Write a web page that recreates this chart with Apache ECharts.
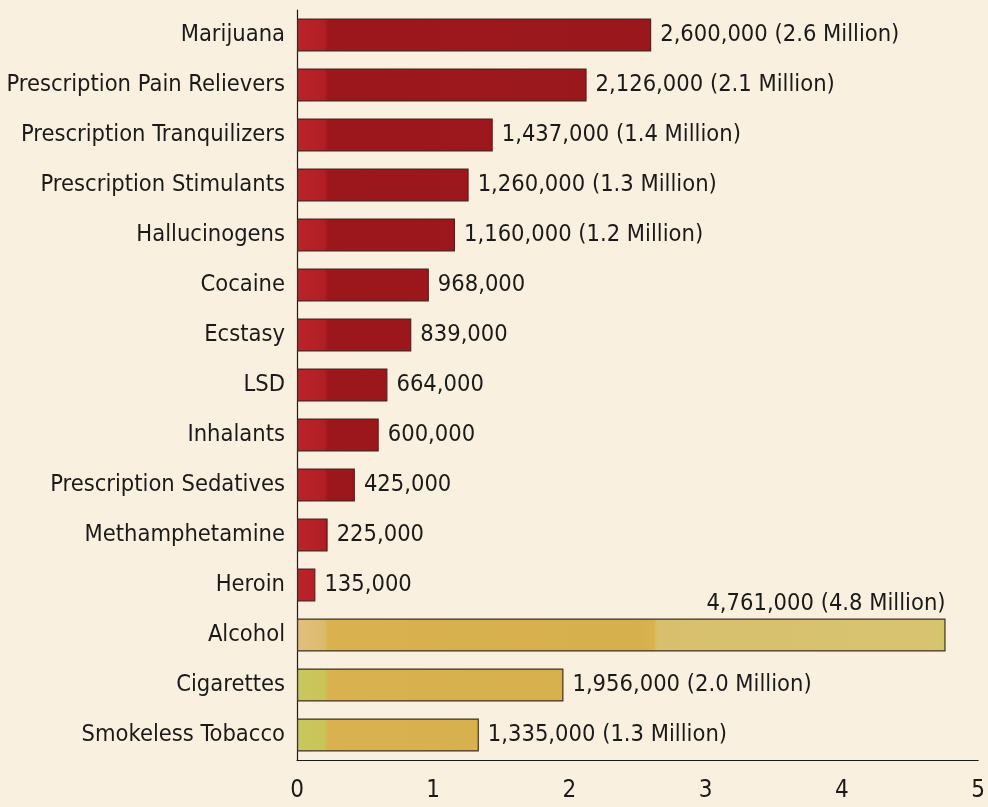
<!DOCTYPE html>
<html>
<head>
<meta charset="utf-8">
<script src="https://cdn.jsdelivr.net/npm/echarts@6/dist/echarts.min.js"></script>
<style>
  html, body { margin: 0; padding: 0; background: #FAF0DF; }
  #chart { width: 988px; height: 807px; }
</style>
</head>
<body>
<div id="chart"></div>
<script>
// Substances, listed top to bottom
const categories = [
  'Marijuana', 'Prescription Pain Relievers', 'Prescription Tranquilizers',
  'Prescription Stimulants', 'Hallucinogens', 'Cocaine', 'Ecstasy', 'LSD',
  'Inhalants', 'Prescription Sedatives', 'Methamphetamine', 'Heroin',
  'Alcohol', 'Cigarettes', 'Smokeless Tobacco'
];
// Number of users
const users = [
  2600000, 2126000, 1437000, 1260000, 1160000, 968000, 839000, 664000,
  600000, 425000, 225000, 135000, 4761000, 1956000, 1335000
];
// Rounded figure shown in parentheses (empty when not shown)
const millionNotes = [
  '2.6', '2.1', '1.4', '1.3', '1.2', '', '', '',
  '', '', '', '', '4.8', '2.0', '1.3'
];
// Legal substances drawn in gold
const legal = ['Alcohol', 'Cigarettes', 'Smokeless Tobacco'];
const xTicks = [0, 1, 2, 3, 4, 5];

const FONT = "'Liberation Sans Narrow', 'DejaVu Sans Condensed', 'Roboto Condensed', sans-serif";

const chartDom = document.getElementById('chart');
const chart = echarts.init(chartDom, null, { renderer: 'canvas' });

const gridLeft = 297, gridRight = 5;
const plotW = 988 - gridLeft - gridRight;

function redFill() {
  return {
    type: 'linear', global: true,
    x: gridLeft, y: 0, x2: gridLeft + plotW, y2: 0,
    colorStops: [
      { offset: 0, color: '#bb2329' },
      { offset: 0.04, color: '#b01f25' },
      { offset: 0.045, color: '#9c171c' },
      { offset: 1, color: '#981a1e' }
    ]
  };
}
function goldFill(isAlcohol) {
  const stops = [
    { offset: 0, color: isAlcohol ? '#e2c07e' : '#c8c85e' },
    { offset: 0.04, color: isAlcohol ? '#dcba6c' : '#cbc458' },
    { offset: 0.045, color: '#d9b24f' },
    { offset: 0.5, color: '#d6b04c' }
  ];
  if (isAlcohol) {
    stops.push({ offset: 0.52, color: '#d8b24e' });
    stops.push({ offset: 0.525, color: '#d7bf6e' });
    stops.push({ offset: 0.93, color: '#d8c470' });
    stops.push({ offset: 0.95, color: '#cdc769' });
  } else {
    stops.push({ offset: 1, color: '#d6b04c' });
  }
  return {
    type: 'linear', global: true,
    x: gridLeft, y: 0, x2: gridLeft + plotW, y2: 0,
    colorStops: stops
  };
}

const seriesData = categories.map((name, i) => {
  const isLegal = legal.includes(name);
  const item = {
    value: users[i] / 1e6,
    itemStyle: {
      color: isLegal ? goldFill(name === 'Alcohol') : redFill(),
      borderColor: isLegal ? '#3f2f2a' : '#4a2622',
      borderWidth: 1.2
    }
  };
  if (name === 'Alcohol') {
    item.label = {
      position: ['100%', -3],
      align: 'right',
      verticalAlign: 'bottom',
      distance: 0
    };
  }
  return item;
});

const option = {
  backgroundColor: '#FAF0DF',
  animation: false,
  grid: { left: gridLeft, right: gridRight, top: 10, bottom: 47, containLabel: false },
  xAxis: {
    type: 'value',
    min: 0, max: 5, interval: 1,
    axisLine: { show: true, lineStyle: { color: '#1a1a1a', width: 1.2 } },
    axisTick: { show: false },
    splitLine: { show: false },
    axisLabel: {
      color: '#1a1a1a', fontFamily: FONT, fontSize: 24, margin: 19,
      formatter: v => xTicks.includes(v) ? String(v) : ''
    }
  },
  yAxis: {
    type: 'category',
    inverse: true,
    data: categories,
    axisLine: { show: true, lineStyle: { color: '#1a1a1a', width: 1.2 } },
    axisTick: { show: false },
    axisLabel: { color: '#1a1a1a', fontFamily: FONT, fontSize: 23.5, margin: 12 }
  },
  series: [{
    type: 'bar',
    data: seriesData,
    barCategoryGap: '34%',
    label: {
      show: true,
      position: 'right',
      distance: 9,
      color: '#1a1a1a',
      fontFamily: FONT,
      fontSize: 23.5,
      formatter: p => {
        const n = users[p.dataIndex].toLocaleString('en-US');
        const m = millionNotes[p.dataIndex];
        return m ? n + ' (' + m + ' Million)' : n;
      }
    }
  }]
};

chart.setOption(option);
</script>
</body>
</html>
